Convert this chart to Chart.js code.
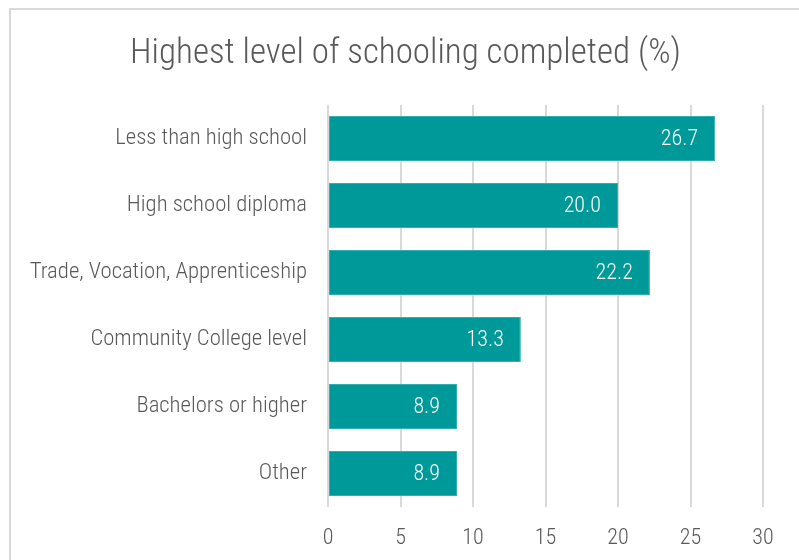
<!DOCTYPE html>
<html>
<head>
<meta charset="utf-8">
<script src="https://cdn.jsdelivr.net/npm/chart.js@4"></script>
<style>
  html, body { margin: 0; padding: 0; background: #fff; }
  #wrap { width: 799px; height: 560px; position: relative; }
</style>
</head>
<body>
<div id="wrap"><canvas id="c" width="799" height="560"></canvas></div>
<script>
const categories = [
  'Less than high school',
  'High school diploma',
  'Trade, Vocation, Apprenticeship',
  'Community College level',
  'Bachelors or higher',
  'Other'
];
const percentages = [26.7, 20.0, 22.2, 13.3, 8.9, 8.9];
const xTicks = [0, 5, 10, 15, 20, 25, 30];
const chartTitle = 'Highest level of schooling completed (%)';

const FONT = "'Roboto Condensed', 'Liberation Sans', sans-serif";
const GREY = '#595959';

// Frame (top and left edges fall inside the canvas) and the centred title
const framePlugin = {
  id: 'frame',
  beforeDraw(chart) {
    const ctx = chart.ctx;
    ctx.save();
    ctx.strokeStyle = '#d9d9d9';
    ctx.lineWidth = 2;
    ctx.beginPath();
    ctx.moveTo(10, chart.height + 5);
    ctx.lineTo(10, 9);
    ctx.lineTo(chart.width + 5, 9);
    ctx.stroke();

    ctx.fillStyle = GREY;
    ctx.font = '300 35px ' + FONT;
    ctx.textAlign = 'center';
    ctx.textBaseline = 'alphabetic';
    ctx.fillText(chartTitle, 405.5, 63);
    ctx.restore();
  }
};

// Value labels drawn inside the end of each bar
const valueLabels = {
  id: 'valueLabels',
  afterDatasetsDraw(chart) {
    const ctx = chart.ctx;
    const meta = chart.getDatasetMeta(0);
    ctx.save();
    ctx.fillStyle = '#ffffff';
    ctx.font = '300 22px ' + FONT;
    ctx.textAlign = 'right';
    ctx.textBaseline = 'middle';
    meta.data.forEach((bar, i) => {
      ctx.fillText(percentages[i].toFixed(1), bar.x - 17, bar.y + 1);
    });
    ctx.restore();
  }
};

new Chart(document.getElementById('c'), {
  type: 'bar',
  data: {
    labels: categories,
    datasets: [{
      data: percentages,
      backgroundColor: '#009999',
      borderColor: '#33adad',
      borderWidth: 1,
      borderSkipped: false,
      barPercentage: 0.67,
      categoryPercentage: 1
    }]
  },
  options: {
    indexAxis: 'y',
    responsive: false,
    animation: false,
    devicePixelRatio: 1,
    layout: { padding: { left: 10, right: 36, top: 105, bottom: 0 } },
    plugins: {
      legend: { display: false },
      tooltip: { enabled: false },
      title: { display: false }
    },
    scales: {
      x: {
        min: 0,
        max: 30,
        afterBuildTicks(scale) { scale.ticks = xTicks.map(v => ({ value: v })); },
        grid: { color: '#d9d9d9', lineWidth: 2, drawTicks: false },
        border: { display: false },
        ticks: { color: GREY, font: { family: FONT, size: 22, weight: 300 }, padding: 18 },
        afterFit(scale) { scale.height = 53; }
      },
      y: {
        grid: { display: false, drawTicks: false },
        border: { display: false },
        ticks: { color: GREY, font: { family: FONT, size: 22.7, weight: 300 }, padding: 21 },
        afterFit(scale) { scale.width = 318; }
      }
    }
  },
  plugins: [framePlugin, valueLabels]
});
</script>
</body>
</html>
